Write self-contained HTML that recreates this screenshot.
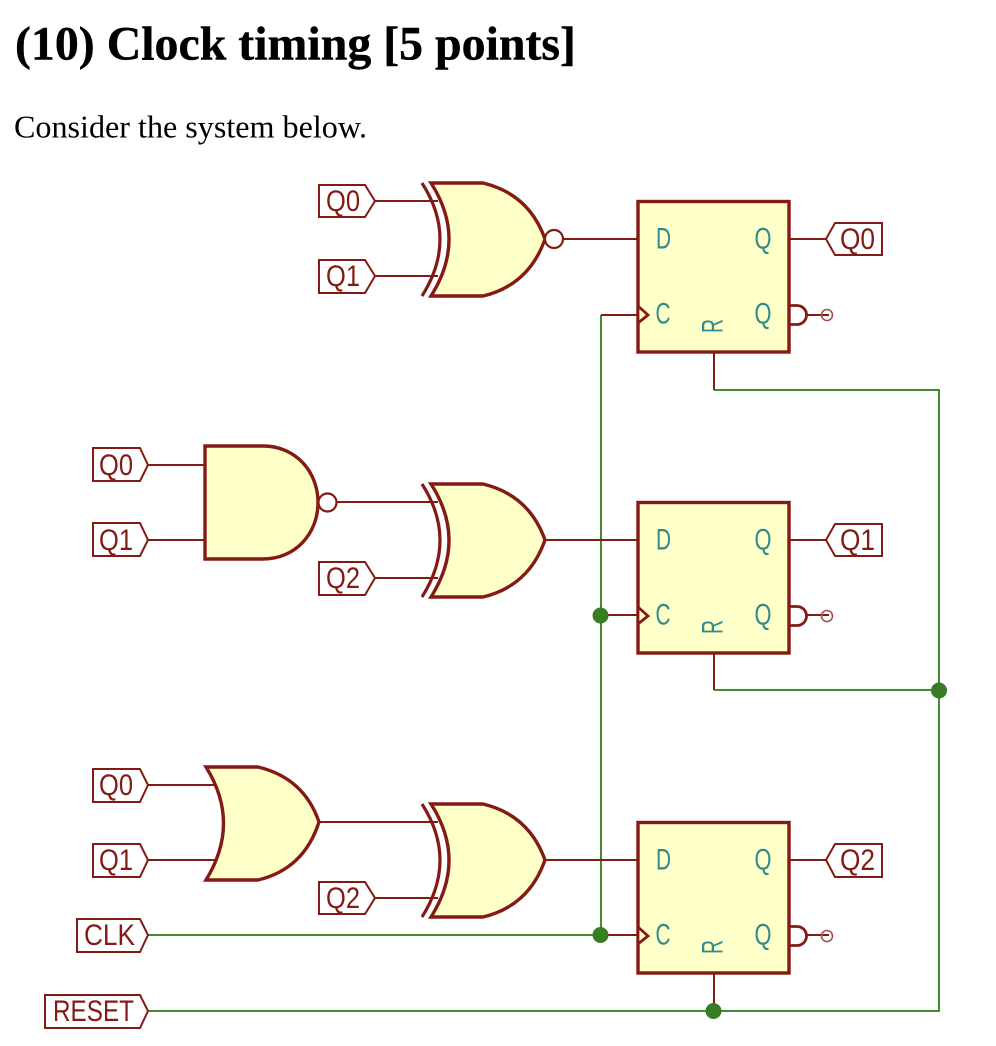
<!DOCTYPE html>
<html><head><meta charset="utf-8"><style>
html,body{margin:0;padding:0;background:#fff}
svg{display:block}
.t{font-family:"Liberation Serif",serif;fill:#000}
.l{font-family:"Liberation Sans",sans-serif;font-size:30px;fill:#841a14}
.p{font-family:"Liberation Sans",sans-serif;font-size:30px;fill:#2f8a8e}
.w{stroke:#841a14;stroke-width:2;fill:none}
.g{stroke:#428c30;stroke-width:2;fill:none}
.b{stroke:#841a14;stroke-width:2.2;fill:#fff}
.s{stroke:#841a14;stroke-width:3.4;fill:#ffffc8;stroke-linejoin:miter}
.a{stroke:#841a14;stroke-width:3.2;fill:none}
.k{stroke:#841a14;stroke-width:2.8;fill:#fff}
.c{stroke:#841a14;stroke-width:2.8;fill:#ffffc8}
.m{stroke:#a5524e;stroke-width:1.6;fill:none}
.d{fill:#367d23}
</style></head><body>
<svg width="996" height="1046" viewBox="0 0 996 1046" xmlns="http://www.w3.org/2000/svg">
<text class="t" x="15" y="59.500" font-size="48" font-weight="bold" stroke="#000" stroke-width="0.4" textLength="561" lengthAdjust="spacingAndGlyphs">(10) Clock timing [5 points]</text>
<text class="t" x="14" y="137.500" font-size="32" textLength="353" lengthAdjust="spacingAndGlyphs">Consider the system below.</text>

<!-- green wires -->
<path class="g" d="M601 315V935M148 935H601M148 1011H939V390H714M714 690H939"/>

<!-- red wires -->
<path class="w" d="M375 201H438M375 276H438M537 239H638M789 239H826M601 315H638M714 352V390M807 315H829"/>
<path class="w" d="M148 465H205M148 540H205M337 502H438M375 578H438M545 540H638M789 540H826M601 615H638M714 654V690M807 615H829"/>
<path class="w" d="M148 785H216M148 860H216M319 822H438M375 898H438M545 860H638M789 860H826M601 935H638M714 974V1011M807 935H829"/>

<!-- XOR 1 -->
<g>
<path class="a" d="M422 183Q458 239 422 296"/>
<path class="s" d="M431 183H483Q529 194 545 239Q529 285 483 296H431Q467 239 431 183Z"/>
<circle class="b" cx="554" cy="239" r="9"/>
</g>
<!-- XOR 2 -->
<g transform="translate(0,301)">
<path class="a" d="M422 183Q458 239 422 296"/>
<path class="s" d="M431 183H483Q529 194 545 239Q529 285 483 296H431Q467 239 431 183Z"/>
</g>
<!-- XOR 3 -->
<g transform="translate(0,621)">
<path class="a" d="M422 183Q458 239 422 296"/>
<path class="s" d="M431 183H483Q529 194 545 239Q529 285 483 296H431Q467 239 431 183Z"/>
</g>
<!-- AND -->
<path class="s" d="M205 446H263C296 446 318 472 318 502.500C318 533 296 559 263 559H205Z"/>
<circle class="b" cx="327.500" cy="502.500" r="9"/>
<!-- OR -->
<path class="s" d="M206 767H258Q304 778 319 822Q304 869 258 880H206Q241 823 206 767Z"/>

<!-- Flip-flops -->
<g>
<path class="k" d="M789 305.500H797A9.500 9.500 0 0 1 797 324.500H789Z"/>
<rect class="s" x="638" y="201.500" width="151" height="150.500"/>
<path class="c" d="M638 306L648 315L638 323Z"/>
<circle class="m" cx="827" cy="315" r="5.500"/>
</g>
<g transform="translate(0,301)">
<path class="k" d="M789 305.500H797A9.500 9.500 0 0 1 797 324.500H789Z"/>
<rect class="s" x="638" y="201.500" width="151" height="150.500"/>
<path class="c" d="M638 306L648 315L638 323Z"/>
<circle class="m" cx="827" cy="315" r="5.500"/>
</g>
<g transform="translate(0,621)">
<path class="k" d="M789 305.500H797A9.500 9.500 0 0 1 797 324.500H789Z"/>
<rect class="s" x="638" y="201.500" width="151" height="150.500"/>
<path class="c" d="M638 306L648 315L638 323Z"/>
<circle class="m" cx="827" cy="315" r="5.500"/>
</g>

<!-- Pin text -->
<g>
<text class="p" x="656" y="248.500" textLength="15" lengthAdjust="spacingAndGlyphs">D</text>
<text class="p" x="754.500" y="248.500" textLength="17" lengthAdjust="spacingAndGlyphs">Q</text>
<text class="p" x="655.500" y="323.500" textLength="15" lengthAdjust="spacingAndGlyphs">C</text>
<text class="p" x="754.500" y="323.500" textLength="17" lengthAdjust="spacingAndGlyphs">Q</text>
<text class="p" transform="translate(722.500,333) rotate(-90)" x="0" y="0" textLength="14" lengthAdjust="spacingAndGlyphs">R</text>
</g>
<g transform="translate(0,301)">
<text class="p" x="656" y="248.500" textLength="15" lengthAdjust="spacingAndGlyphs">D</text>
<text class="p" x="754.500" y="248.500" textLength="17" lengthAdjust="spacingAndGlyphs">Q</text>
<text class="p" x="655.500" y="323.500" textLength="15" lengthAdjust="spacingAndGlyphs">C</text>
<text class="p" x="754.500" y="323.500" textLength="17" lengthAdjust="spacingAndGlyphs">Q</text>
<text class="p" transform="translate(722.500,333) rotate(-90)" x="0" y="0" textLength="14" lengthAdjust="spacingAndGlyphs">R</text>
</g>
<g transform="translate(0,621)">
<text class="p" x="656" y="248.500" textLength="15" lengthAdjust="spacingAndGlyphs">D</text>
<text class="p" x="754.500" y="248.500" textLength="17" lengthAdjust="spacingAndGlyphs">Q</text>
<text class="p" x="655.500" y="323.500" textLength="15" lengthAdjust="spacingAndGlyphs">C</text>
<text class="p" x="754.500" y="323.500" textLength="17" lengthAdjust="spacingAndGlyphs">Q</text>
<text class="p" transform="translate(722.500,333) rotate(-90)" x="0" y="0" textLength="14" lengthAdjust="spacingAndGlyphs">R</text>
</g>

<!-- Input labels -->
<path class="w" d="M319 185H365L375 201L365 217H319Z"/><text class="l" x="326" y="211" textLength="34" lengthAdjust="spacingAndGlyphs">Q0</text>
<path class="w" d="M319 260H365L375 276L365 293H319Z"/><text class="l" x="326" y="286" textLength="34" lengthAdjust="spacingAndGlyphs">Q1</text>
<path class="w" d="M93 448H140L148 465L140 481H93Z"/><text class="l" x="99" y="475" textLength="34" lengthAdjust="spacingAndGlyphs">Q0</text>
<path class="w" d="M93 523H140L148 540L140 556H93Z"/><text class="l" x="99" y="550" textLength="34" lengthAdjust="spacingAndGlyphs">Q1</text>
<path class="w" d="M319 562H365L375 578L365 595H319Z"/><text class="l" x="326" y="588" textLength="34" lengthAdjust="spacingAndGlyphs">Q2</text>
<path class="w" d="M93 769H140L148 785L140 802H93Z"/><text class="l" x="99" y="795" textLength="34" lengthAdjust="spacingAndGlyphs">Q0</text>
<path class="w" d="M93 844H140L148 860L140 877H93Z"/><text class="l" x="99" y="870" textLength="34" lengthAdjust="spacingAndGlyphs">Q1</text>
<path class="w" d="M319 882H365L375 898L365 914H319Z"/><text class="l" x="326" y="908" textLength="34" lengthAdjust="spacingAndGlyphs">Q2</text>
<path class="w" d="M77 919H140L148 935L140 952H77Z"/><text class="l" x="84" y="945" textLength="51" lengthAdjust="spacingAndGlyphs">CLK</text>
<path class="w" d="M45 995H140L148 1011L140 1028H45Z"/><text class="l" x="53" y="1021" textLength="81" lengthAdjust="spacingAndGlyphs">RESET</text>

<!-- Output labels -->
<path class="w" d="M826 239L835 223H882V255H835Z"/><text class="l" x="840" y="249" textLength="35" lengthAdjust="spacingAndGlyphs">Q0</text>
<path class="w" d="M826 540L835 524H882V556H835Z"/><text class="l" x="840" y="550" textLength="35" lengthAdjust="spacingAndGlyphs">Q1</text>
<path class="w" d="M826 860L835 844H882V877H835Z"/><text class="l" x="840" y="870" textLength="35" lengthAdjust="spacingAndGlyphs">Q2</text>

<!-- Junctions -->
<circle class="d" cx="600.500" cy="615.500" r="8"/>
<circle class="d" cx="600.500" cy="935" r="8"/>
<circle class="d" cx="939" cy="690.500" r="8"/>
<circle class="d" cx="713.500" cy="1011" r="8"/>
</svg>
</body></html>
